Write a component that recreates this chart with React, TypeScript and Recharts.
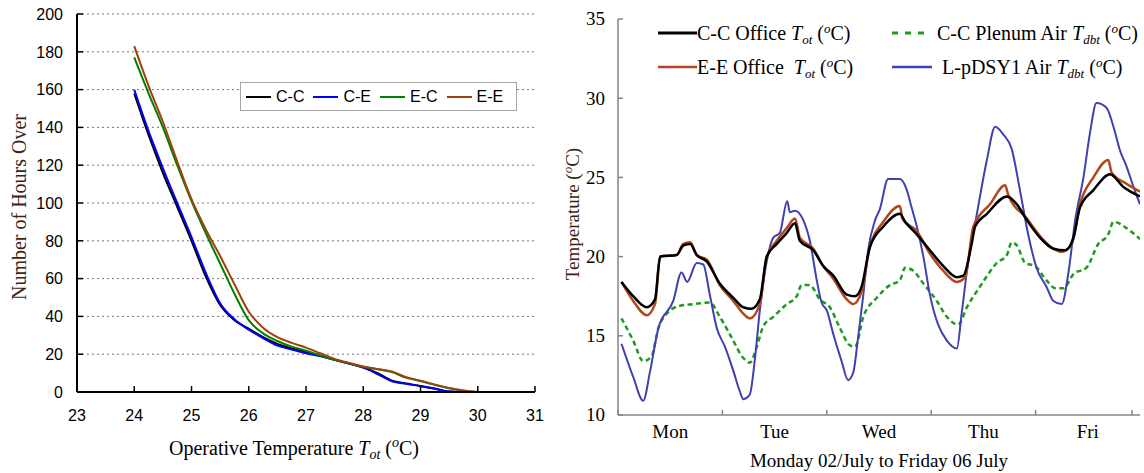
import React from "react";
import { LineChart, Line, XAxis, YAxis, CartesianGrid, Legend, Label } from "recharts";

const SERIF = "'Liberation Serif', 'Times New Roman', serif";
const SANS = "'Liberation Sans', Arial, sans-serif";
const TITLE = "#3d2314";

// left chart: hours over a given operative temperature
const overTemps = [24, 24.25, 24.5, 24.75, 25, 25.25, 25.5, 25.75, 26, 26.25, 26.5, 26.75, 27, 27.25, 27.5, 27.75, 28, 28.25, 28.5, 28.75, 29, 29.25, 29.5, 29.75, 30];
const hoursCC = [158, 136, 116, 98, 80, 61, 46, 38, 33.5, 29, 25.5, 23, 21, 19, 17, 15, 13, 10, 6, 4.5, 3.2, 1.8, 0.3, 0, 0];
const hoursCE = [160, 138, 118.5, 100, 82, 63, 47, 38.5, 33, 28.5, 24.5, 22.5, 20.5, 19, 17, 15, 13, 9.5, 5.6, 4.3, 3.1, 1.7, 0.2, 0, 0];
const hoursEC = [177, 158, 140, 120, 101, 84, 68, 52, 38, 31, 27, 24, 21.8, 19.3, 17, 15.2, 13.3, 12, 10.5, 7.6, 5.8, 3.8, 2, 0.7, 0];
const hoursEE = [183, 162, 143, 122, 102, 86, 72, 57, 42.5, 34, 29, 26, 23.5, 20.5, 17.5, 15.4, 13.5, 12.2, 10.9, 7.8, 6, 3.9, 2.1, 0.8, 0];
const tempTicks = [23, 24, 25, 26, 27, 28, 29, 30, 31];
const hourTicks = [0, 20, 40, 60, 80, 100, 120, 140, 160, 180, 200];

const hoursSeries = [
  { key: "cc", name: "C-C", color: "#000000" },
  { key: "ce", name: "C-E", color: "#0000ff" },
  { key: "ec", name: "E-C", color: "#008000" },
  { key: "ee", name: "E-E", color: "#a0400c" },
];

const hoursData = overTemps.map((t, i) => ({
  t,
  cc: hoursCC[i],
  ce: hoursCE[i],
  ec: hoursEC[i],
  ee: hoursEE[i],
}));

// right chart: [hour since Monday 00:00, temperature]
const ccOffice = [[0.8, 18.4], [3.5, 17.5], [6.6, 16.8], [8.5, 17.3], [9.7, 20.0], [13.5, 20.1], [15, 20.7], [16.6, 20.8], [18.1, 20.1], [20.4, 19.7], [23.4, 18.3], [26.5, 17.4], [28.8, 16.8], [30.7, 16.7], [32.6, 17.3], [34.2, 20.0], [36.5, 20.8], [38.8, 21.5], [40.7, 22.1], [41.8, 21.0], [44.9, 20.4], [47.2, 19.4], [49.5, 18.8], [52.6, 17.6], [54.5, 17.5], [56, 18.1], [57.9, 20.6], [61, 21.9], [64.8, 22.7], [66, 22.2], [68.7, 21.4], [71.7, 20.4], [74.8, 19.4], [77.9, 18.7], [79.4, 18.8], [81.3, 20.8], [82.1, 21.9], [84.8, 22.7], [89.4, 23.8], [91.7, 23.3], [94, 22.3], [97, 21.2], [100.1, 20.5], [102.8, 20.4], [104.7, 21.2], [106.2, 23.1], [109.3, 24.2], [113.1, 25.2], [116.2, 24.4], [120, 23.8]];
const eeOffice = [[0.8, 18.4], [3.5, 17.2], [6.6, 16.3], [8.5, 17.0], [9.7, 20.0], [13.5, 20.1], [15, 20.8], [16.6, 20.9], [18.1, 20.1], [20.4, 19.8], [23.4, 18.2], [26.5, 17.2], [28.8, 16.4], [30.3, 16.1], [32.6, 17.0], [34.2, 20.0], [36.5, 21.0], [38.8, 21.8], [40.7, 22.4], [41.8, 21.2], [44.9, 20.5], [47.2, 19.4], [49.5, 18.6], [52.6, 17.3], [54.1, 17.0], [56, 17.8], [57.9, 20.6], [61, 22.2], [64.8, 23.2], [65.4, 22.4], [68.7, 21.6], [71.7, 20.2], [74.8, 19.1], [77.9, 18.4], [79.8, 18.7], [81.7, 21.9], [85.5, 23.3], [89, 24.5], [89.7, 23.9], [94, 22.4], [97, 21.3], [100.1, 20.5], [102, 20.3], [104.3, 20.8], [106.2, 23.3], [109.3, 25.0], [112.7, 26.1], [113.5, 25.3], [116.9, 24.6], [120, 24.1]];
const ccPlenum = [[0.8, 16.1], [3.5, 14.7], [5.8, 13.4], [7.7, 13.7], [9.3, 15.5], [11.2, 16.4], [14.3, 16.9], [17.3, 17.0], [21.1, 17.1], [23.4, 16.2], [26.1, 14.9], [28.8, 13.6], [30.3, 13.3], [31.9, 14.3], [33.4, 15.6], [35.7, 16.2], [38.8, 17.0], [41.1, 17.5], [42.2, 18.2], [44.1, 18.2], [46.4, 17.3], [48.7, 16.8], [51, 15.5], [53.3, 14.4], [54.5, 14.3], [56.4, 16.2], [59.5, 17.4], [62.5, 18.2], [64.8, 18.5], [66, 19.3], [67.9, 19.1], [70.2, 18.3], [73.3, 17.2], [75.6, 16.2], [78.2, 15.7], [80.2, 16.8], [83.2, 18.1], [87.1, 19.6], [89.4, 20.1], [90.5, 20.9], [91.7, 20.7], [93.6, 19.6], [95.9, 19.4], [98.5, 18.5], [100.5, 18.0], [102.4, 18.0], [104.7, 18.9], [107.7, 19.3], [110.4, 20.8], [112.7, 21.4], [113.9, 22.2], [116.9, 21.8], [120, 21.1]];
const pdsyAir = [[0.8, 14.5], [3.5, 12.4], [5.8, 10.9], [7.4, 12.8], [9.3, 15.5], [12.7, 17.2], [14.6, 19.0], [15.9, 18.4], [18.1, 19.6], [19.6, 19.5], [21.1, 17.6], [22.7, 15.5], [24.6, 14.3], [26.5, 12.8], [28, 11.5], [28.8, 11.0], [30.3, 11.3], [31.5, 13.6], [32.6, 16.6], [34.2, 19.7], [35.7, 21.2], [37.2, 21.5], [38.9, 23.5], [39.5, 22.8], [40.7, 22.9], [42.6, 22.3], [44.1, 21.0], [45.7, 18.5], [46.8, 17.1], [48, 16.6], [49.5, 15.1], [51.4, 13.4], [52.9, 12.2], [54.1, 12.7], [55.2, 14.9], [56.4, 17.6], [57.5, 20.4], [59.1, 22.3], [60.2, 23.0], [62.1, 24.9], [64.8, 24.9], [66.4, 24.2], [67.5, 23.1], [68.7, 21.9], [70.2, 20.0], [71.7, 17.6], [73.6, 15.7], [75.6, 14.7], [77.9, 14.2], [79, 16.4], [80.5, 19.7], [82.5, 22.7], [84.8, 26.1], [86.7, 28.2], [88.6, 27.7], [90.5, 26.8], [92.4, 24.2], [94.3, 21.4], [96.2, 19.3], [98.5, 18.1], [100.1, 17.2], [102, 17.0], [103.5, 18.9], [105.1, 22.3], [107, 25.0], [108.5, 27.8], [110, 29.7], [112.3, 29.4], [113.9, 28.2], [115.4, 26.7], [116.9, 25.7], [118.5, 24.4], [120, 23.3]];
const dayNames = ["Mon", "Tue", "Wed", "Thu", "Fri"];
const dayTicks = [0, 12, 24, 36, 48, 60, 72, 84, 96, 108, 120];
const tempYTicks = [10, 15, 20, 25, 30, 35];

const toRows = (pts: number[][]) => pts.map(([h, v]) => ({ h, v }));

const HoursXTick = (props: any) => {
  const { x, y, payload } = props;
  return (
    <g>
      <line x1={x} y1={y} x2={x} y2={y - 6} stroke="#000" strokeWidth={1.5} />
      <text x={x} y={y + 29} textAnchor="middle" fontFamily={SANS} fontSize={16} fill="#000">
        {payload.value}
      </text>
    </g>
  );
};

const HoursYTick = (props: any) => {
  const { x, y, payload } = props;
  return (
    <g>
      <line x1={x} y1={y} x2={x + 6} y2={y} stroke="#000" strokeWidth={1.5} />
      <text x={x - 14} y={y} dy="0.36em" textAnchor="end" fontFamily={SANS} fontSize={16} fill="#000">
        {payload.value}
      </text>
    </g>
  );
};

const DayTick = (props: any) => {
  const { x, y, payload } = props;
  if (payload.value % 24 === 0) {
    return <line x1={x} y1={y} x2={x} y2={y - 5} stroke="#868686" strokeWidth={1.5} />;
  }
  return (
    <text x={x} y={y + 23} textAnchor="middle" fontFamily={SERIF} fontSize={19} fill="#000">
      {dayNames[(payload.value - 12) / 24]}
    </text>
  );
};

const TempYTick = (props: any) => {
  const { x, y, payload } = props;
  return (
    <g>
      <line x1={x} y1={y} x2={x + 5} y2={y} stroke="#868686" strokeWidth={1.5} />
      <text x={x - 13} y={y} dy="0.34em" textAnchor="end" fontFamily={SERIF} fontSize={19} fill="#000">
        {payload.value}
      </text>
    </g>
  );
};

const hoursYTitle = ({ viewBox }: any) => {
  const cx = viewBox.x + 19;
  const cy = viewBox.y + viewBox.height / 2 + 4;
  return (
    <text x={cx} y={cy} transform={`rotate(-90 ${cx} ${cy})`} textAnchor="middle" dominantBaseline="central" fontFamily={SERIF} fontSize={20} fill={TITLE}>
      Number of Hours Over
    </text>
  );
};

const hoursXTitle = ({ viewBox }: any) => {
  const cx = viewBox.x + viewBox.width / 2 - 12;
  const cy = viewBox.y + 63;
  return (
    <text x={cx} y={cy} textAnchor="middle" fontFamily={SERIF} fontSize={20} fill="#000">
      Operative Temperature{"  "}
      <tspan fontStyle="italic">T</tspan>
      <tspan fontStyle="italic" fontSize={14} dy={4}>ot</tspan>
      <tspan dy={-4}>{"  "}(</tspan>
      <tspan fontStyle="italic" fontSize={14} dy={-8}>o</tspan>
      <tspan dy={8}>C)</tspan>
    </text>
  );
};

const tempYTitle = ({ viewBox }: any) => {
  const cx = viewBox.x + 12;
  const cy = viewBox.y + viewBox.height / 2 - 3;
  return (
    <text x={cx} y={cy} transform={`rotate(-90 ${cx} ${cy})`} textAnchor="middle" dominantBaseline="central" fontFamily={SERIF} fontSize={19} fill={TITLE}>
      Temperature{"  "}(<tspan fontStyle="italic" fontSize={13} dy={-5}>o</tspan>
      <tspan dy={5}>C)</tspan>
    </text>
  );
};

const dayXTitle = ({ viewBox }: any) => {
  const cx = viewBox.x + viewBox.width / 2;
  const cy = viewBox.y + 52;
  return (
    <text x={cx} y={cy} textAnchor="middle" fontFamily={SERIF} fontSize={19} fill="#000">
      Monday 02/July to Friday 06 July
    </text>
  );
};

const HoursLegend = () => (
  <div
    style={{
      width: 277,
      height: 29,
      boxSizing: "border-box",
      border: "1.5px solid #a6a6a6",
      background: "#fff",
      display: "flex",
      alignItems: "center",
      paddingLeft: 5,
      fontFamily: SANS,
      fontSize: 16,
      color: "#000",
    }}
  >
    {hoursSeries.map((s) => (
      <span key={s.key} style={{ display: "flex", alignItems: "center", marginRight: 9 }}>
        <span style={{ width: 25, borderTop: `2px solid ${s.color}`, marginRight: 5 }} />
        {s.name}
      </span>
    ))}
  </div>
);

const Tsub = ({ sub }: { sub: string }) => (
  <span style={{ whiteSpace: "nowrap" }}>
    <i>T</i>
    <span style={{ fontSize: 13, fontStyle: "italic", position: "relative", top: 4 }}>{sub}</span>
  </span>
);
const Deg = () => (
  <span style={{ whiteSpace: "nowrap" }}>
    (<span style={{ fontSize: 13, fontStyle: "italic", position: "relative", top: -7 }}>o</span>C)
  </span>
);

const Swatch = ({ color, width, dash, thick }: { color: string; width: number; dash?: string; thick: number }) => (
  <svg width={width} height={8} style={{ display: "block", flex: "none" }}>
    <line x1={0} y1={4} x2={width} y2={4} stroke={color} strokeWidth={thick} strokeDasharray={dash} />
  </svg>
);

const TempLegend = () => {
  const item = { display: "flex", alignItems: "center", height: 34, whiteSpace: "nowrap" as const };
  return (
    <div style={{ display: "grid", gridTemplateColumns: "234px 256px", fontFamily: SERIF, fontSize: 20, color: "#000" }}>
      <div style={item}>
        <Swatch color="#000" width={39} thick={3} />
        C-C Office&nbsp;<Tsub sub="ot" />&nbsp;<Deg />
      </div>
      <div style={item}>
        <Swatch color="#1e9b1e" width={35} thick={3} dash="6 7" />
        <span style={{ marginLeft: 10 }}>C-C Plenum Air</span>&nbsp;<Tsub sub="dbt" />&nbsp;<Deg />
      </div>
      <div style={item}>
        <Swatch color="#b4461e" width={39} thick={2.5} />
        E-E Office&nbsp;&nbsp;<Tsub sub="ot" />&nbsp;<Deg />
      </div>
      <div style={item}>
        <Swatch color="#4040b0" width={40} thick={2.5} />
        <span style={{ marginLeft: 10 }}>L-pDSY1 Air</span>&nbsp;<Tsub sub="dbt" />&nbsp;<Deg />
      </div>
    </div>
  );
};

export default function App() {
  return (
    <div style={{ position: "absolute", left: 0, top: 0, width: 1144, height: 473, background: "#fff" }}>
      <div style={{ position: "absolute", left: 0, top: 0 }}>
        <LineChart width={560} height={473} data={hoursData} margin={{ top: 14, right: 25, bottom: 0, left: 0 }}>
          <CartesianGrid vertical={false} stroke="#777" strokeDasharray="2 3" />
          <XAxis
            dataKey="t"
            type="number"
            domain={[23, 31]}
            ticks={tempTicks}
            height={81}
            axisLine={{ stroke: "#000", strokeWidth: 2 }}
            tickLine={false}
            tickSize={0}
            tickMargin={0}
            tick={<HoursXTick />}
          >
            <Label content={hoursXTitle} />
          </XAxis>
          <YAxis
            type="number"
            domain={[0, 200]}
            ticks={hourTicks}
            width={77}
            axisLine={{ stroke: "#000", strokeWidth: 2 }}
            tickLine={false}
            tickSize={0}
            tickMargin={0}
            tick={<HoursYTick />}
          >
            <Label content={hoursYTitle} />
          </YAxis>
          <Legend layout="vertical" align="center" verticalAlign="middle" content={<HoursLegend />} wrapperStyle={{ left: 240, top: 82, width: 277, height: 29 }} />
          {hoursSeries.map((s) => (
            <Line key={s.key} dataKey={s.key} name={s.name} type="monotone" stroke={s.color} strokeWidth={2} dot={false} isAnimationActive={false} />
          ))}
        </LineChart>
      </div>
      <div style={{ position: "absolute", left: 560, top: 0 }}>
        <LineChart width={584} height={473} margin={{ top: 19, right: 4, bottom: 0, left: 0 }}>
          <XAxis
            dataKey="h"
            type="number"
            domain={[0, 120]}
            allowDataOverflow
            ticks={dayTicks}
            height={58}
            axisLine={{ stroke: "#868686", strokeWidth: 1.5 }}
            tickLine={false}
            tickSize={0}
            tickMargin={0}
            tick={<DayTick />}
          >
            <Label content={dayXTitle} />
          </XAxis>
          <YAxis
            type="number"
            domain={[10, 35]}
            ticks={tempYTicks}
            width={58}
            axisLine={{ stroke: "#868686", strokeWidth: 1.5 }}
            tickLine={false}
            tickSize={0}
            tickMargin={0}
            tick={<TempYTick />}
          >
            <Label content={tempYTitle} />
          </YAxis>
          <Legend layout="vertical" align="center" verticalAlign="middle" content={<TempLegend />} wrapperStyle={{ left: 98, top: 16, width: 490 }} />
          <Line data={toRows(ccPlenum)} dataKey="v" name="C-C Plenum Air" type="monotone" stroke="#1e9b1e" strokeWidth={2.5} strokeDasharray="5 3.5" dot={false} isAnimationActive={false} />
          <Line data={toRows(pdsyAir)} dataKey="v" name="L-pDSY1 Air" type="monotone" stroke="#4040b0" strokeWidth={2} dot={false} isAnimationActive={false} />
          <Line data={toRows(eeOffice)} dataKey="v" name="E-E Office" type="monotone" stroke="#b4461e" strokeWidth={2.5} dot={false} isAnimationActive={false} />
          <Line data={toRows(ccOffice)} dataKey="v" name="C-C Office" type="monotone" stroke="#000" strokeWidth={2.5} dot={false} isAnimationActive={false} />
        </LineChart>
      </div>
    </div>
  );
}
